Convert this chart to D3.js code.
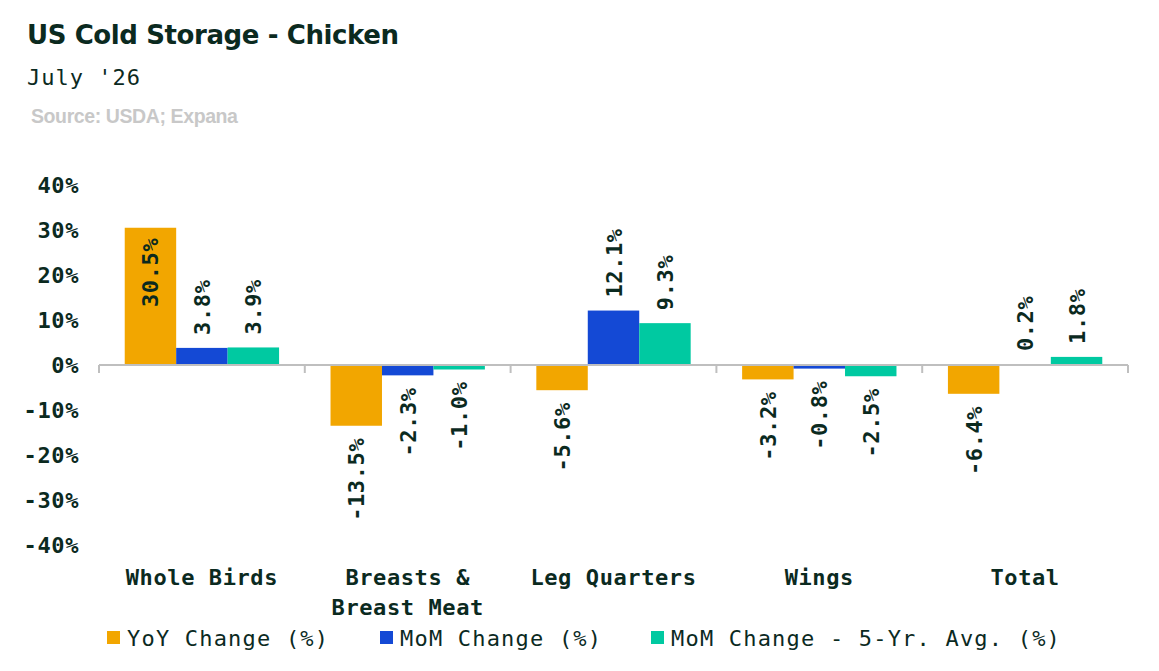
<!DOCTYPE html>
<html>
<head>
	<meta charset="utf-8">
	<title> US Cold Storage - Chicken </title>
	<script src="https://d3js.org/d3.v7.min.js"></script>
	<style>
		body { margin: 0; background: #ffffff; }
		svg { display: block; }
	</style>
</head>
<body>
	<svg width="1159" height="671"></svg>
	<script type="text/javascript">
		let categories = ["Whole Birds", "Breasts & Breast Meat", "Leg Quarters", "Wings", "Total"];
		let categoryLines = [["Whole Birds"], ["Breasts &", "Breast Meat"], ["Leg Quarters"], ["Wings"], ["Total"]];
		let seriesNames = ["YoY Change (%)", "MoM Change (%)", "MoM Change - 5-Yr. Avg. (%)"];
		let yoyValues = [30.5, -13.5, -5.6, -3.2, -6.4];
		let momValues = [3.8, -2.3, 12.1, -0.8, 0.2];
		let avgValues = [3.9, -1.0, 9.3, -2.5, 1.8];
		let yTicks = [-40, -30, -20, -10, 0, 10, 20, 30, 40];
		let colorSet = ["#f2a600", "#1449d5", "#00c9a1"];

		let series = [yoyValues, momValues, avgValues];
		let textColor = "#0b2a1f";
		let mono = "'DejaVu Sans Mono', monospace";
		let sans = "'Liberation Sans', Arial, sans-serif";

		let svg = d3.select("svg");

		// header
		svg.append("text").attr("x", 27).attr("y", 44)
			.style("font-family", "'DejaVu Sans', sans-serif")
			.style("font-weight", 700).style("font-size", "26px")
			.style("letter-spacing", "-0.4px")
			.style("fill", textColor).text("US Cold Storage - Chicken");
		svg.append("text").attr("x", 27).attr("y", 85)
			.style("font-family", mono).style("font-size", "22px")
			.style("letter-spacing", "1px")
			.style("fill", textColor).text("July '26");
		svg.append("text").attr("x", 31).attr("y", 123)
			.style("font-family", sans)
			.style("font-weight", 700).style("font-size", "19.5px")
			.style("letter-spacing", "-0.4px")
			.style("fill", "#c8c8c8").text("Source: USDA; Expana");

		// scales
		let x0 = d3.scaleBand().domain(categories).range([99, 1128]).padding(0);
		let bw = x0.bandwidth();
		let x1 = d3.scaleBand().domain(d3.range(series.length))
			.range([bw * 0.125, bw * 0.875]).padding(0);
		let y = d3.scaleLinear().domain([-40, 40]).range([545, 185]);

		// y tick labels
		svg.append("g").selectAll("text").data(yTicks).enter().append("text")
			.attr("x", 79).attr("y", d => y(d) + 8)
			.attr("text-anchor", "end")
			.style("font-family", mono).style("font-size", "22px")
			.style("font-weight", 700)
			.style("letter-spacing", "0.6px")
			.style("fill", textColor)
			.text(d => d + "%");

		// bars
		let groups = svg.append("g").selectAll("g").data(categories).enter().append("g")
			.attr("transform", d => "translate(" + x0(d) + ",0)");

		groups.selectAll("rect").data((d, i) => series.map((s, j) => ({ j: j, v: s[i] })))
			.enter().append("rect")
			.attr("x", d => x1(d.j))
			.attr("width", x1.bandwidth())
			.attr("y", d => y(Math.max(0, d.v)))
			.attr("height", d => Math.abs(y(d.v) - y(0)))
			.attr("fill", d => colorSet[d.j]);

		// zero axis line with ticks
		let axis = svg.append("g");
		axis.append("line").attr("x1", 99).attr("x2", 1128)
			.attr("y1", y(0)).attr("y2", y(0))
			.style("stroke", "#bfbfbf").style("stroke-width", 2);
		axis.selectAll("line.tick").data(categories.concat(["end"])).enter().append("line")
			.attr("class", "tick")
			.attr("x1", (d, i) => 99 + i * bw).attr("x2", (d, i) => 99 + i * bw)
			.attr("y1", y(0)).attr("y2", y(0) + 8)
			.style("stroke", "#bfbfbf").style("stroke-width", 2);

		// value labels (rotated)
		let isInside = d => d.v > 0 && y(d.v) - 90 < y(40);
		groups.selectAll("text.val").data((d, i) => series.map((s, j) => ({ j: j, v: s[i] })))
			.enter().append("text")
			.attr("class", "val")
			.attr("transform", d => {
				let cx = x1(d.j) + x1.bandwidth() / 2 + 8;
				let end = y(d.v);
				let ty;
				if (isInside(d)) ty = end + 10;
				else if (d.v >= 0) ty = end - 13;
				else ty = end + 12;
				return "translate(" + cx + "," + ty + ") rotate(-90)";
			})
			.attr("text-anchor", d => {
				if (isInside(d)) return "end";
				return d.v >= 0 ? "start" : "end";
			})
			.style("font-family", mono).style("font-size", "22px")
			.style("font-weight", 700)
			.style("letter-spacing", "0.6px")
			.style("fill", textColor)
			.text(d => d.v.toFixed(1) + "%");

		// category labels
		let catLabels = svg.append("g").selectAll("text").data(categoryLines).enter().append("text")
			.attr("text-anchor", "middle")
			.style("font-family", mono).style("font-size", "22px")
			.style("font-weight", 700)
			.style("letter-spacing", "0.6px")
			.style("fill", textColor);
		catLabels.selectAll("tspan").data((d, i) => d.map(t => ({ t: t, c: categories[i] })))
			.enter().append("tspan")
			.attr("x", d => x0(d.c) + bw / 2)
			.attr("y", (d, k) => 585 + k * 30)
			.text(d => d.t);

		// legend
		let legendX = [107, 380, 651];
		let legend = svg.append("g").selectAll("g").data(seriesNames).enter().append("g")
			.attr("transform", (d, i) => "translate(" + legendX[i] + ",631)");
		legend.append("rect").attr("x", 0).attr("y", 0)
			.attr("width", 13).attr("height", 13)
			.attr("fill", (d, i) => colorSet[i]);
		legend.append("text").attr("x", 20).attr("y", 15)
			.style("font-family", mono).style("font-size", "22px")
			.style("letter-spacing", "1.2px")
			.style("fill", textColor)
			.text(d => d);
	</script>
</body>
</html>
